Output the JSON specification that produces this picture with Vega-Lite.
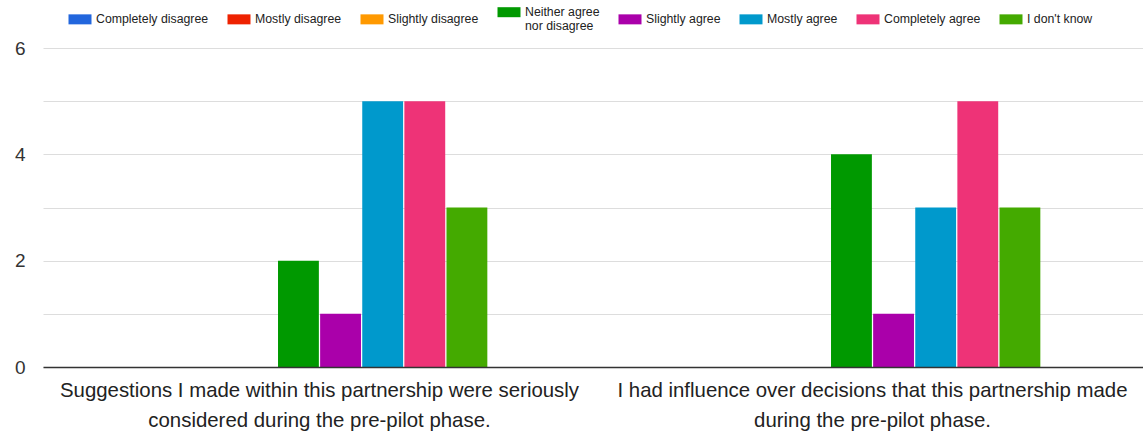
{
  "$schema": "https://vega.github.io/schema/vega-lite/v6.json",
  "autosize": {"type": "none"},
  "width": 1106,
  "height": 319,
  "padding": {"left": 43, "top": 48, "right": 0, "bottom": 66},
  "background": "white",
  "config": {"view": {"stroke": null}, "font": "Liberation Sans"},
  "data": {"values": [
    {"statement": "Suggestions I made within this partnership were seriously considered during the pre-pilot phase.", "response": "Completely disagree", "count": 0},
    {"statement": "Suggestions I made within this partnership were seriously considered during the pre-pilot phase.", "response": "Mostly disagree", "count": 0},
    {"statement": "Suggestions I made within this partnership were seriously considered during the pre-pilot phase.", "response": "Slightly disagree", "count": 0},
    {"statement": "Suggestions I made within this partnership were seriously considered during the pre-pilot phase.", "response": "Neither agree nor disagree", "count": 2},
    {"statement": "Suggestions I made within this partnership were seriously considered during the pre-pilot phase.", "response": "Slightly agree", "count": 1},
    {"statement": "Suggestions I made within this partnership were seriously considered during the pre-pilot phase.", "response": "Mostly agree", "count": 5},
    {"statement": "Suggestions I made within this partnership were seriously considered during the pre-pilot phase.", "response": "Completely agree", "count": 5},
    {"statement": "Suggestions I made within this partnership were seriously considered during the pre-pilot phase.", "response": "I don't know", "count": 3},
    {"statement": "I had influence over decisions that this partnership made during the pre-pilot phase.", "response": "Completely disagree", "count": 0},
    {"statement": "I had influence over decisions that this partnership made during the pre-pilot phase.", "response": "Mostly disagree", "count": 0},
    {"statement": "I had influence over decisions that this partnership made during the pre-pilot phase.", "response": "Slightly disagree", "count": 0},
    {"statement": "I had influence over decisions that this partnership made during the pre-pilot phase.", "response": "Neither agree nor disagree", "count": 4},
    {"statement": "I had influence over decisions that this partnership made during the pre-pilot phase.", "response": "Slightly agree", "count": 1},
    {"statement": "I had influence over decisions that this partnership made during the pre-pilot phase.", "response": "Mostly agree", "count": 3},
    {"statement": "I had influence over decisions that this partnership made during the pre-pilot phase.", "response": "Completely agree", "count": 5},
    {"statement": "I had influence over decisions that this partnership made during the pre-pilot phase.", "response": "I don't know", "count": 3}
  ]},
  "mark": {"type": "bar"},
  "encoding": {
    "x": {
      "field": "statement", "type": "nominal", "sort": null,
      "scale": {"paddingInner": 0.393, "paddingOuter": 0.1965},
      "axis": {
        "title": null, "labelAngle": 0, "ticks": false, "zindex": 1,
        "domainColor": "#333333", "domainWidth": 1.5,
        "labelFontSize": 20.4, "labelColor": "#222222", "labelPadding": 13,
        "labelLineHeight": 30, "labelLimit": 0,
        "labelExpr": "datum.label == 'Suggestions I made within this partnership were seriously considered during the pre-pilot phase.' ? ['Suggestions I made within this partnership were seriously', 'considered during the pre-pilot phase.'] : ['I had influence over decisions that this partnership made', 'during the pre-pilot phase.']"
      }
    },
    "xOffset": {
      "field": "response", "type": "nominal",
      "sort": ["Completely disagree", "Mostly disagree", "Slightly disagree", "Neither agree nor disagree", "Slightly agree", "Mostly agree", "Completely agree", "I don't know"],
      "scale": {"paddingInner": 0.03}
    },
    "y": {
      "field": "count", "type": "quantitative",
      "scale": {"domain": [0, 6], "nice": false},
      "axis": {
        "title": null, "values": [0, 1, 2, 3, 4, 5, 6], "ticks": false, "domain": false,
        "labelExpr": "datum.value % 2 == 0 ? datum.label : ''",
        "labelFontSize": 19, "labelColor": "#333333", "labelPadding": 18,
        "gridColor": "#dddddd", "gridWidth": 1
      }
    },
    "color": {
      "field": "response", "type": "nominal",
      "sort": ["Completely disagree", "Mostly disagree", "Slightly disagree", "Neither agree nor disagree", "Slightly agree", "Mostly agree", "Completely agree", "I don't know"],
      "scale": {
        "domain": ["Completely disagree", "Mostly disagree", "Slightly disagree", "Neither agree nor disagree", "Slightly agree", "Mostly agree", "Completely agree", "I don't know"],
        "range": ["#2266dd", "#ee2200", "#ff9900", "#009900", "#aa00aa", "#0099cc", "#ee3377", "#44aa00"]
      },
      "legend": {
        "title": null, "orient": "none", "direction": "horizontal",
        "legendX": 27, "legendY": -46,
        "symbolType": "M-1.15,-0.5L1.15,-0.5L1.15,0.5L-1.15,0.5Z", "symbolSize": 400,
        "symbolStrokeWidth": 0, "labelFontSize": 12.3, "labelColor": "#222222",
        "labelOffset": 6, "columnPadding": 18, "labelLimit": 0,
        "labelExpr": "datum.label == 'Neither agree nor disagree' ? ['Neither agree', 'nor disagree'] : datum.label",
        "labelLineHeight": 13
      }
    }
  }
}
